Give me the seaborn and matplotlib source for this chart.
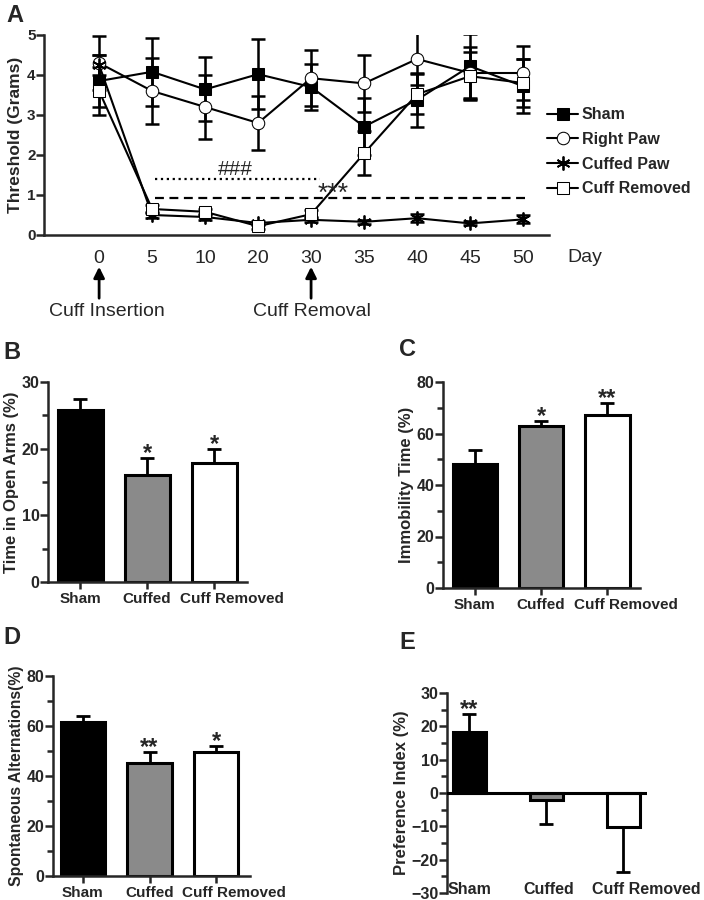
import numpy as np
import pandas as pd
import matplotlib
matplotlib.use("Agg")
import matplotlib.pyplot as plt
import matplotlib.transforms as mtransforms
import seaborn as sns
from matplotlib.ticker import MultipleLocator

# %%
# Panel A data: von Frey threshold over days
days = ['0', '5', '10', '20', '30', '35', '40', '45', '50']
sham = [3.85, 4.08, 3.64, 4.02, 3.70, 2.71, 3.38, 4.22, 3.72]
sham_err = [0.65, 0.85, 0.80, 0.87, 0.57, 0.72, 0.67, 0.80, 0.67]
right_paw = [4.30, 3.60, 3.20, 2.80, 3.92, 3.79, 4.40, 4.05, 4.05]
right_paw_err = [0.68, 0.82, 0.80, 0.68, 0.70, 0.71, 0.65, 0.65, 0.67]
cuffed_paw = [4.25, 0.50, 0.45, 0.30, 0.38, 0.33, 0.42, 0.29, 0.39]
cuffed_paw_err = [0.25, 0.08, 0.08, 0.05, 0.06, 0.05, 0.10, 0.05, 0.10]
cuff_removed = [3.60, 0.65, 0.58, 0.22, 0.52, 2.04, 3.52, 3.97, 3.80]
cuff_removed_err = [0.60, 0.10, 0.08, 0.06, 0.10, 0.55, 0.50, 0.60, 0.60]

# Panels B-E data
groups = ['Sham', 'Cuffed', 'Cuff Removed']
open_arms = [25.8, 16.0, 17.8]
open_arms_err = [1.7, 2.65, 2.1]
open_arms_sig = ['', '*', '*']
immobility = [48.3, 62.8, 67.1]
immobility_err = [5.4, 2.1, 4.7]
immobility_sig = ['', '*', '**']
alternations = [61.5, 45.3, 49.7]
alternations_err = [2.6, 4.4, 2.4]
alternations_sig = ['', '**', '*']
preference = [18.3, -2.2, -10.1]
preference_err = [5.5, 7.2, 13.6]
preference_sig = ['**', '', '']

bar_colors = ['black', '#8a8a8a', 'white']

# %%
sns.set_style("ticks")
plt.rcParams['font.family'] = ['Liberation Sans', 'DejaVu Sans']
plt.rcParams['axes.linewidth'] = 1.8

fig = plt.figure(figsize=(7.04, 9.0), dpi=100)


def style_axis(ax, size=11.5):
    sns.despine(ax=ax)
    ax.tick_params(axis='y', which='major', length=5.5, width=1.8, labelsize=size, pad=0.5)
    ax.tick_params(axis='y', which='minor', length=4, width=1.8)
    for lab in ax.get_yticklabels():
        lab.set_fontweight('bold')


def shift_label(ax, idx, dx_pt):
    lab = ax.get_xticklabels()[idx]
    offset = mtransforms.ScaledTranslation(dx_pt/72, 0, fig.dpi_scale_trans)
    lab.set_transform(lab.get_transform() + offset)


# %%
# Panel A
axA = fig.add_axes([44/704, 1-235/900, (549-44)/704, 200/900])
x = np.arange(len(days))
series = [
    ('Sham', sham, sham_err, dict(marker='s', markerfacecolor='black', markersize=9)),
    ('Right Paw', right_paw, right_paw_err, dict(marker='o', markerfacecolor='white', markersize=9)),
    ('Cuffed Paw', cuffed_paw, cuffed_paw_err, dict(marker=(6, 2, 0), markersize=10, markeredgewidth=1.3)),
    ('Cuff Removed', cuff_removed, cuff_removed_err, dict(marker='s', markerfacecolor='white', markersize=9)),
]
for name, vals, errs, mk in series:
    axA.errorbar(x, vals, yerr=errs, fmt='none', ecolor='black', elinewidth=1.8,
                 capsize=5, capthick=1.8, zorder=2)
    sns.lineplot(x=x, y=vals, color='black', linewidth=1.5, markeredgecolor='black',
                 label=name, ax=axA, zorder=3, **mk)

axA.set_xlim(-1.04, 8.49)
axA.set_ylim(0, 5)
axA.set_xticks(x)
axA.set_xticklabels(days)
axA.tick_params(axis='x', length=0, labelsize=14, pad=11)
axA.yaxis.set_major_locator(MultipleLocator(1))
style_axis(axA, size=11)
axA.set_ylabel('Threshold (Grams)', fontsize=12.5, fontweight='bold', labelpad=3)
axA.set_xlabel('')

# significance lines
axA.plot([1.05, 4.17], [1.4, 1.4], ls=':', color='black', lw=1.6)
axA.plot([1.05, 8.1], [0.93, 0.93], ls='--', color='black', lw=1.6, dashes=(4, 2.5))
axA.text(2.57, 1.5, '###', fontsize=15, ha='center', va='baseline')
axA.text(4.42, 0.86, '***', fontsize=19, ha='center', va='baseline')

trans = axA.get_xaxis_transform()
axA.text(9.17, -0.11, 'Day', transform=trans, fontsize=14, ha='center', va='center')
for xi, lab, dx in [(0, 'Cuff Insertion', 0.15), (4, 'Cuff Removal', 0.02)]:
    axA.annotate('', xy=(xi, -0.145), xytext=(xi, -0.33), xycoords=trans, textcoords=trans,
                 arrowprops=dict(arrowstyle='-|>', color='black', lw=2, mutation_scale=16),
                 annotation_clip=False)
    axA.text(xi + dx, -0.385, lab, transform=trans, fontsize=14, ha='center', va='center')

handles, labels = axA.get_legend_handles_labels()
axA.legend_.remove()
fig.legend(handles, labels, loc='upper left', bbox_to_anchor=(541/704, 1-101/900),
           frameon=False, prop=dict(size=11.5, weight='bold'), handlelength=1.9,
           handletextpad=0.25, labelspacing=0.6, borderaxespad=0)

# %%
# Bar panels


def bar_panel(rect, vals, errs, sig, ylabel, ylim, major, minor, xlim, width, ylabsize=12):
    ax = fig.add_axes(rect)
    df = pd.DataFrame({'group': groups, 'value': vals})
    sns.barplot(data=df, x='group', y='value', hue='group', order=groups, hue_order=groups,
                palette=bar_colors, edgecolor='black', linewidth=2.2, width=width,
                errorbar=None, legend=False, ax=ax)
    lo = [0 if v >= 0 else e for v, e in zip(vals, errs)]
    hi = [e if v >= 0 else 0 for v, e in zip(vals, errs)]
    ax.errorbar(range(len(groups)), vals, yerr=[lo, hi], fmt='none', ecolor='black',
                elinewidth=2, capsize=5, capthick=2, zorder=3)
    for i, s in enumerate(sig):
        if s:
            ax.annotate(s, xy=(i, vals[i] + errs[i]), xytext=(0, -1.5), textcoords='offset points',
                        ha='center', va='baseline', fontsize=17, fontweight='bold')
    ax.set_ylim(*ylim)
    ax.set_xlim(*xlim)
    ax.yaxis.set_major_locator(MultipleLocator(major))
    ax.yaxis.set_minor_locator(MultipleLocator(minor))
    style_axis(ax)
    ax.tick_params(axis='x', length=5, width=1.8, labelsize=11, pad=2)
    for lab in ax.get_xticklabels():
        lab.set_fontweight('bold')
    ax.set_xlabel('')
    ax.set_ylabel(ylabel, fontsize=ylabsize, fontweight='bold', labelpad=2)
    return ax


axB = bar_panel([48/704, 1-582/900, 199/704, 200/900], open_arms, open_arms_err, open_arms_sig,
                'Time in Open Arms (%)', (0, 30), 10, 5, (-0.48, 2.49), 0.67)
axC = bar_panel([443/704, 1-588/900, 197/704, 206/900], immobility, immobility_err, immobility_sig,
                'Immobility Time (%)', (0, 80), 20, 10, (-0.48, 2.49), 0.67)
axD = bar_panel([53/704, 1-876/900, 197/704, 200/900], alternations, alternations_err, alternations_sig,
                'Spontaneous Alternations(%)', (0, 80), 20, 10, (-0.45, 2.51), 0.67, ylabsize=11.3)
axE = bar_panel([447/704, 1-893/900, 200/704, 200/900], preference, preference_err, preference_sig,
                'Preference Index (%)', (-30, 30), 10, 5, (-0.29, 2.31), 0.43)
axE.spines['bottom'].set_visible(False)
axE.axhline(0, color='black', lw=2.2, zorder=4)
axE.tick_params(axis='x', length=0, labelsize=11.5, pad=-8)

# the last group label sits right of its bar centre in the original
for ax in (axB, axC, axD):
    shift_label(ax, 2, 13)
shift_label(axE, 1, 2)
shift_label(axE, 2, 17)

# panel letters
for lab, px, py in [('A', 6, 4), ('B', 3, 341), ('C', 399, 338), ('D', 3, 626), ('E', 399, 631)]:
    fig.text(px/704, 1-py/900, lab, fontsize=17, fontweight='bold', va='top', ha='left')

fig.savefig('out.png', dpi=100)
